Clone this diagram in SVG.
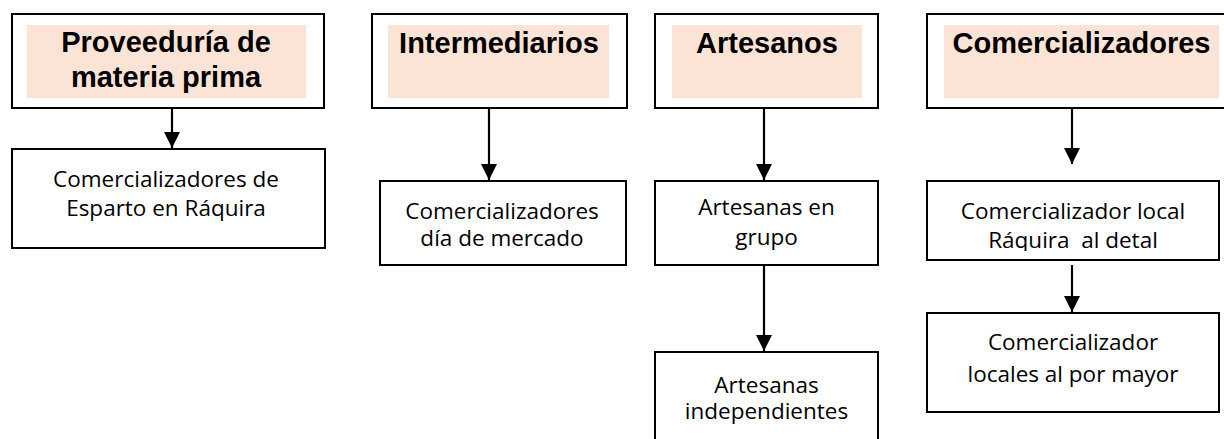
<svg xmlns="http://www.w3.org/2000/svg" width="1224" height="439" viewBox="0 0 1224 439">
  <defs>
    <style>
      .box { fill: #ffffff; stroke: #000000; stroke-width: 2; }
      .hl { fill: #FBE4D5; stroke: none; }
      .hdr { font-family: "Liberation Sans", Arial, sans-serif; font-weight: bold; font-size: 29px; fill: #000; text-anchor: middle; }
      .txt { font-family: "Open Sans", "Noto Sans", sans-serif; font-size: 22.5px; fill: #000; text-anchor: middle; }
      .conn { stroke: #000; stroke-width: 2.2; fill: none; marker-end: url(#arr); }
    </style>
    <marker id="arr" markerUnits="userSpaceOnUse" markerWidth="16" markerHeight="16" viewBox="0 0 16 16" refX="16" refY="8" orient="auto">
      <path d="M0,0 L16,8 L0,16 z" fill="#000"/>
    </marker>
    <clipPath id="clipRaq">
      <rect x="927" y="181" width="292" height="70"/>
    </clipPath>
  </defs>
  <rect width="1224" height="439" fill="#ffffff"/>

  <g id="connectors">
    <line class="conn" x1="172" y1="108" x2="172" y2="148"/>
    <line class="conn" x1="489" y1="108" x2="489" y2="180"/>
    <line class="conn" x1="764" y1="108" x2="764" y2="180"/>
    <line class="conn" x1="764" y1="265" x2="764" y2="351"/>
    <line class="conn" x1="1072" y1="108" x2="1072" y2="164"/>
    <line class="conn" x1="1072" y1="265" x2="1072" y2="312"/>
  </g>

  <g id="n-proveeduria">
    <rect class="box" x="12" y="14" width="312" height="94"/>
    <rect class="hl" x="27" y="25" width="279" height="73"/>
    <text class="hdr" x="166" y="52">Proveeduría de</text>
    <text class="hdr" x="166" y="87">materia prima</text>
  </g>
  <g id="n-esparto">
    <rect class="box" x="12" y="149" width="313" height="99"/>
    <text class="txt" x="166" y="187">Comercializadores de</text>
    <text class="txt" x="166" y="216">Esparto en Ráquira</text>
  </g>

  <g id="n-intermediarios">
    <rect class="box" x="372" y="14" width="255" height="94"/>
    <rect class="hl" x="388" y="25" width="221" height="73"/>
    <text class="hdr" x="499" y="53">Intermediarios</text>
  </g>
  <g id="n-mercado">
    <rect class="box" x="380" y="181" width="246" height="84"/>
    <text class="txt" x="502" y="219">Comercializadores</text>
    <text class="txt" x="502" y="246">día de mercado</text>
  </g>

  <g id="n-artesanos">
    <rect class="box" x="655" y="14" width="223" height="94"/>
    <rect class="hl" x="672" y="25" width="190" height="73"/>
    <text class="hdr" x="767" y="53">Artesanos</text>
  </g>
  <g id="n-grupo">
    <rect class="box" x="655" y="181" width="223" height="84"/>
    <text class="txt" x="766.5" y="215">Artesanas en</text>
    <text class="txt" x="766.5" y="245">grupo</text>
  </g>
  <g id="n-independientes">
    <rect class="box" x="655" y="352" width="223" height="100"/>
    <text class="txt" x="766.5" y="393">Artesanas</text>
    <text class="txt" x="766.5" y="419">independientes</text>
  </g>

  <g id="n-comercializadores">
    <rect class="box" x="927" y="14" width="305" height="94"/>
    <rect class="hl" x="944" y="25" width="275" height="73"/>
    <text class="hdr" x="1081.5" y="53">Comercializadores</text>
  </g>
  <g id="n-detal">
    <rect class="box" x="927" y="181" width="292" height="79"/>
    <text class="txt" x="1073" y="219">Comercializador local</text>
    <text class="txt" x="1073" y="248" clip-path="url(#clipRaq)" xml:space="preserve">Ráquira  al detal</text>
  </g>
  <g id="n-mayor">
    <rect class="box" x="927" y="313" width="292" height="99"/>
    <text class="txt" x="1073" y="350">Comercializador</text>
    <text class="txt" x="1073" y="382">locales al por mayor</text>
  </g>
</svg>
